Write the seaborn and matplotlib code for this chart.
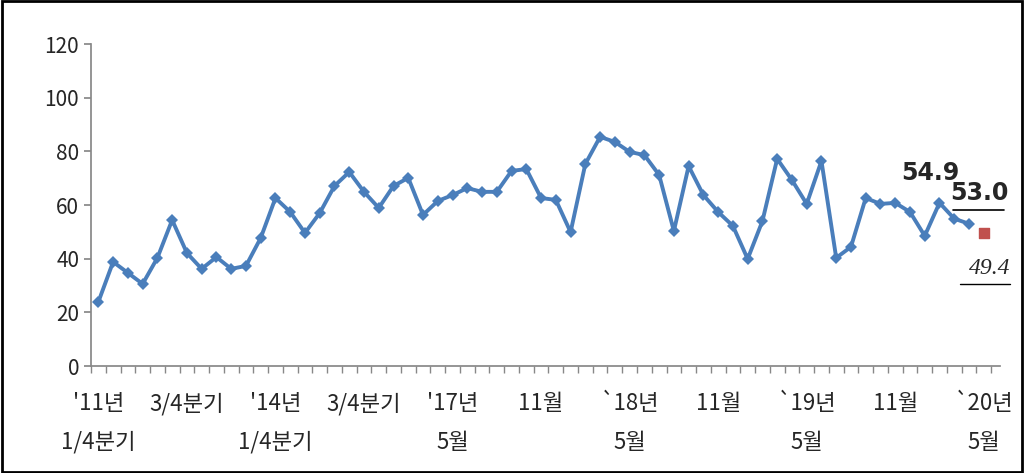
import matplotlib
matplotlib.use("Agg")
import matplotlib.pyplot as plt
import seaborn as sns
import pandas as pd

values = [23.9, 38.8, 34.7, 30.6, 40.3, 54.4, 42.1, 36.2, 40.6, 36.2, 37.3, 47.7,
          62.6, 57.4, 49.6, 57.0, 67.1, 72.3, 64.9, 58.9, 67.1, 70.1, 56.3, 61.5,
          63.7, 66.3, 64.9, 64.9, 72.7, 73.4, 62.6, 61.9, 49.9, 75.3, 85.4, 83.5,
          79.8, 78.6, 71.2, 50.3, 74.5, 63.7, 57.4, 52.2, 39.9, 54.0, 77.2, 69.3,
          60.4, 76.4, 40.3, 44.4, 62.6, 60.4, 60.8, 57.4, 48.5, 60.8, 54.9, 53.0]
forecast = 49.4
top_labels = ["'11년", "3/4분기", "'14년", "3/4분기", "'17년", "11월", "`18년", "11월", "`19년", "11월", "`20년"]
bottom_labels = ["1/4분기", "", "1/4분기", "", "5월", "", "5월", "", "5월", "", "5월"]

sns.set_theme(style="white")
plt.rcParams['font.family'] = ['Noto Sans CJK KR', 'DejaVu Sans']

fig = plt.figure(figsize=(10.24, 4.73), dpi=100)
ax = fig.add_axes([91/1024, 1-366/473, 909/1024, 322/473])
df = pd.DataFrame({"x": range(len(values)), "y": values})
sns.lineplot(data=df, x="x", y="y", ax=ax, color="#4a7ebb", linewidth=2.8,
             marker="D", markersize=6, markeredgewidth=0)
ax.scatter([len(values)], [forecast], marker="s", s=55, color="#c0504d", zorder=5)

ax.set_xlim(-0.4, 61.1)
ax.set_ylim(0, 120)
ax.set_yticks(range(0, 121, 20))
ax.tick_params(axis='y', labelsize=15, length=5, direction='out', left=True, color='#888')
ax.set_xticks([i - 0.5 for i in range(0, 62)], minor=True)
ax.set_xticks([])
ax.tick_params(axis='x', which='minor', length=5, direction='out', bottom=True, color='#888')
ax.set_xlabel(""); ax.set_ylabel("")
for s in ["top", "right"]:
    ax.spines[s].set_visible(False)
for s in ["left", "bottom"]:
    ax.spines[s].set_color("#888")

for k, (t, b) in enumerate(zip(top_labels, bottom_labels)):
    xi = k * 6
    ax.text(xi, -14, t, ha="center", va="center", fontsize=16)
    if b:
        ax.text(xi, -28.5, b, ha="center", va="center", fontsize=16)

ax.text(56.4, 72, "54.9", ha="center", va="center", fontsize=17, fontweight="bold",
        family=['DejaVu Sans'])
ax.text(59.7, 64.5, "53.0", ha="center", va="center", fontsize=17, fontweight="bold",
        family=['DejaVu Sans'])
ax.plot([57.9, 61.4], [58.3, 58.3], color="black", lw=1.2, clip_on=False)
ax.text(60.4, 36.5, "49.4", ha="center", va="center", fontsize=17, style="italic",
        family=['Liberation Serif'])
ax.plot([58.4, 61.8], [30.5, 30.5], color="black", lw=1, clip_on=False)

fig.patches.append(plt.Rectangle((0.002, 0.003), 0.996, 0.994, transform=fig.transFigure,
                                 fill=False, edgecolor="black", lw=2))
fig.savefig("out.png", dpi=100)
